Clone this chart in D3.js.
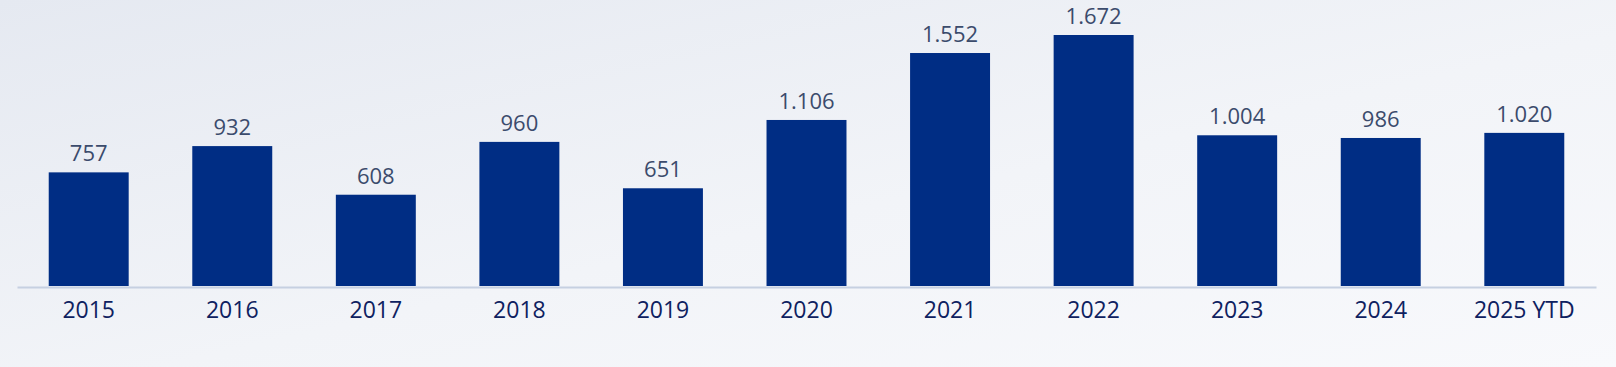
<!DOCTYPE html>
<html>
<head>
<meta charset="utf-8">
<script src="https://cdn.jsdelivr.net/npm/d3@7"></script>
<style>
  html, body { margin: 0; padding: 0; }
  body { width: 1616px; height: 367px; overflow: hidden; }
  svg { display: block; }
</style>
</head>
<body>
<div id="chart"></div>
<script>
let years = ['2015', '2016', '2017', '2018', '2019', '2020', '2021', '2022', '2023', '2024', '2025 YTD']
let values = [757, 932, 608, 960, 651, 1106, 1552, 1672, 1004, 986, 1020]
let valueLabels = ['757', '932', '608', '960', '651', '1.106', '1.552', '1.672', '1.004', '986', '1.020']

let width = 1616
let height = 367
let margin = { left: 17, right: 20, baseline: 286 }

let svg = d3
  .select('#chart')
  .append('svg')
  .attr('width', width)
  .attr('height', height)

// soft background gradient
let defs = svg.append('defs')
let grad = defs
  .append('linearGradient')
  .attr('id', 'bg')
  .attr('x1', '0%')
  .attr('y1', '0%')
  .attr('x2', '100%')
  .attr('y2', '100%')
grad.append('stop').attr('offset', '0%').attr('stop-color', '#e5e9f1')
grad.append('stop').attr('offset', '55%').attr('stop-color', '#f2f4f8')
grad.append('stop').attr('offset', '100%').attr('stop-color', '#f8f9fc')

svg
  .append('rect')
  .attr('width', width)
  .attr('height', height)
  .attr('fill', 'url(#bg)')

let xPositionScale = d3
  .scaleBand()
  .domain(years)
  .range([margin.left, width - margin.right])
  .paddingInner(0.443)
  .paddingOuter(0.221)

let yPositionScale = d3
  .scaleLinear()
  .domain([0, 1672])
  .range([margin.baseline, 35])

svg
  .selectAll('.bar')
  .data(years)
  .enter()
  .append('rect')
  .attr('class', 'bar')
  .attr('x', d => xPositionScale(d))
  .attr('width', xPositionScale.bandwidth())
  .attr('y', (d, i) => yPositionScale(values[i]))
  .attr('height', (d, i) => yPositionScale(0) - yPositionScale(values[i]))
  .attr('fill', '#002d84')

svg
  .selectAll('.value-label')
  .data(years)
  .enter()
  .append('text')
  .attr('class', 'value-label')
  .attr('x', d => xPositionScale(d) + xPositionScale.bandwidth() / 2)
  .attr('y', (d, i) => yPositionScale(values[i]) - 11)
  .attr('text-anchor', 'middle')
  .attr('font-family', 'Open Sans, sans-serif')
  .attr('font-size', 22)
  .attr('fill', '#3b4b6c')
  .text((d, i) => valueLabels[i])

let xAxis = d3.axisBottom(xPositionScale).tickSize(0).tickPadding(15)

let axisG = svg
  .append('g')
  .attr('class', 'axis x-axis')
  .attr('transform', 'translate(0,' + (margin.baseline + 1) + ')')
  .call(xAxis)

axisG
  .select('.domain')
  .attr('stroke', '#c6d0e1')
  .attr('stroke-width', 2)

axisG
  .selectAll('text')
  .attr('font-family', 'Open Sans, sans-serif')
  .attr('font-size', 23)
  .attr('fill', '#0e2160')
</script>
</body>
</html>
